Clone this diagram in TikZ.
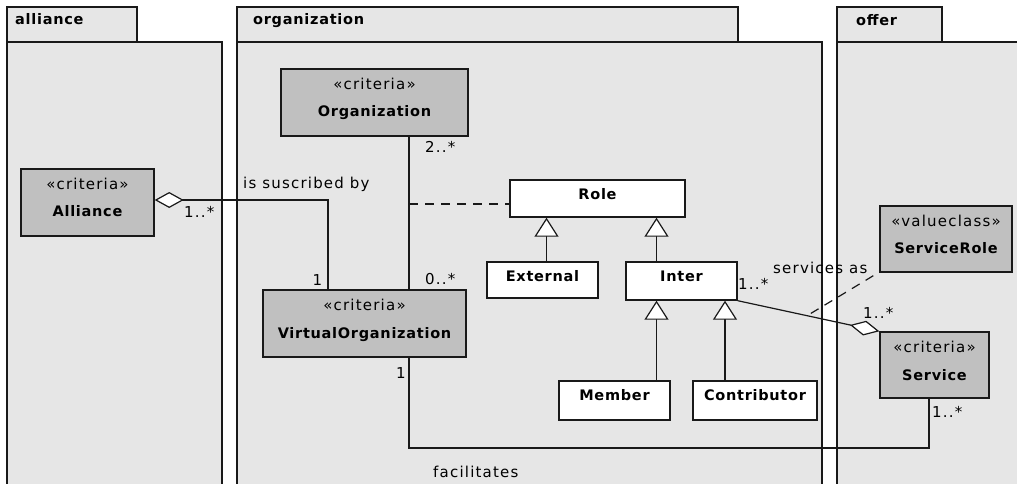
\documentclass[tikz,border=0pt]{standalone}
\usepackage{fontspec}
\setmainfont{DejaVu Sans}[LetterSpace=8, BoldFeatures={LetterSpace=5}]
\usetikzlibrary{arrows.meta,calc}
\definecolor{pkg}{RGB}{230,230,230}
\definecolor{clsgray}{RGB}{192,192,192}
\definecolor{ln}{RGB}{25,25,25}
\begin{document}
\begin{tikzpicture}[x=1pt,y=-1pt,
  pkgshape/.style={draw=ln, fill=pkg, line width=1.4pt},
  graycls/.style={draw=ln, fill=clsgray, line width=1.4pt, inner sep=0pt},
  whitecls/.style={draw=ln, fill=white, line width=1.4pt, inner sep=0pt},
  stxt/.style={font=\fontsize{15}{18}\selectfont, inner sep=0pt, anchor=base},
  ntxt/.style={font=\fontsize{14.5}{17}\selectfont\bfseries, inner sep=0pt, anchor=base},
  ptxt/.style={font=\fontsize{14.5}{17}\selectfont\bfseries, inner sep=0pt, anchor=base west},
  mult/.style={font=\fontsize{15}{18}\selectfont, inner sep=0pt, anchor=base west},
  conn/.style={draw=ln, line width=1.2pt},
  gen/.style={conn, -{Triangle[fill=white, length=19pt, width=24pt]}},
  aggstart/.style={conn, {Diamond[fill=white, length=29pt, width=16pt]}-},
  aggend/.style={conn, -{Diamond[fill=white, length=30pt, width=15pt]}},
  dashline/.style={conn, dash pattern=on 9pt off 7pt}]
\useasboundingbox (0,0) rectangle (1017,484);
\clip (0,0) rectangle (1017,484);
\fill[white] (0,0) rectangle (1017,484);

% packages
\draw[pkgshape] (7,42) rectangle (222,500);
\draw[pkgshape] (7,7) rectangle (137,42);
\draw[pkgshape] (237,42) rectangle (822,500);
\draw[pkgshape] (237,7) rectangle (738,42);
\draw[pkgshape] (837,42) rectangle (1030,500);
\draw[pkgshape] (837,7) rectangle (942,42);
\node[ptxt] (pAlliance) at (15,25) {alliance};
\node[ptxt] (pOrganization) at (253,25) {organization};
\node[ptxt] (pOffer) at (856,26) {offer};

% gray classes
\node[graycls, minimum width=133pt, minimum height=67pt] (alliance) at (87.5,202.5) {};
\node[graycls, minimum width=187pt, minimum height=67pt] (org) at (374.5,102.5) {};
\node[graycls, minimum width=203pt, minimum height=67pt] (vo) at (364.5,323.5) {};
\node[graycls, minimum width=132pt, minimum height=66pt] (srole) at (946,239) {};
\node[graycls, minimum width=109pt, minimum height=66pt] (service) at (934.5,365) {};

\node[stxt] (allianceS) at ($(alliance.north)+(0,21)$) {«criteria»};
\node[ntxt] (allianceN) at ($(alliance.north)+(0,48.5)$) {Alliance};
\node[stxt] (orgS) at ($(org.north)+(0,21)$) {«criteria»};
\node[ntxt] (orgN) at ($(org.north)+(0,48.5)$) {Organization};
\node[stxt] (voS) at ($(vo.north)+(0,21)$) {«criteria»};
\node[ntxt] (voN) at ($(vo.north)+(0,49)$) {VirtualOrganization};
\node[stxt] (sroleS) at ($(srole.north)+(0,21)$) {«valueclass»};
\node[ntxt] (sroleN) at ($(srole.north)+(0,48.5)$) {ServiceRole};
\node[stxt] (serviceS) at ($(service.north)+(0,21)$) {«criteria»};
\node[ntxt] (serviceN) at ($(service.north)+(0,49)$) {Service};

% white classes
\node[whitecls, minimum width=175pt, minimum height=37pt] (role) at (597.5,198.5) {};
\node[whitecls, minimum width=111pt, minimum height=36pt] (external) at (542.5,280) {};
\node[whitecls, minimum width=111pt, minimum height=38pt] (inter) at (681.5,281) {};
\node[whitecls, minimum width=111pt, minimum height=39pt] (member) at (614.5,400.5) {};
\node[whitecls, minimum width=124pt, minimum height=39pt] (contrib) at (755,400.5) {};

\node[ntxt] (roleN) at ($(role.north)+(0,20)$) {Role};
\node[ntxt] (externalN) at ($(external.north)+(0,20)$) {External};
\node[ntxt] (interN) at ($(inter.north)+(0,20)$) {Inter};
\node[ntxt] (memberN) at ($(member.north)+(0,20)$) {Member};
\node[ntxt] (contribN) at ($(contrib.north)+(0,20)$) {Contributor};

% alliance -- virtual organization
\draw[aggstart] ([yshift=2.5pt]alliance.east) -| ([xshift=-36.5pt]vo.north);
\node[mult] (m1) at (184,217) {1..*};
\node[mult] (lSusc) at (243,188) {is suscribed by};
\node[stxt] (m2) at (317.5,285) {1};

% organization -- virtual organization
\coordinate (orgVO) at ([xshift=34.5pt]org.south);
\draw[conn] (orgVO) -- (orgVO |- vo.north);
\node[mult] (m3) at (425,153) {2..*};
\node[mult] (m4) at (425,284) {0..*};
\draw[dashline] ([yshift=-5.5pt]role.west -| orgVO) -- ([yshift=-5.5pt]role.west);

% generalizations
\coordinate (g1) at ([xshift=4pt]external.north);
\draw[gen] (g1) -- (g1 |- role.south);
\coordinate (g2) at ([xshift=-25pt]inter.north);
\draw[gen] (g2) -- (g2 |- role.south);
\coordinate (g3) at ([xshift=42pt]member.north);
\draw[gen] (g3) -- (g3 |- inter.south);
\coordinate (g4) at ([xshift=-30pt]contrib.north);
\draw[gen] (g4) -- (g4 |- inter.south);

% inter -- service
\draw[aggend] (inter.south east) -- (service.north west);
\coordinate (assocMid) at ($(inter.south east)!0.49!(service.north west)$);
\draw[dashline] ($(srole.south west)+(-6,3)$) -- (assocMid);
\node[mult] (m5) at (738,289) {1..*};
\node[mult] (lServ) at (773,273) {services as};
\node[mult] (m6) at (863,318) {1..*};

% virtual organization -- service
\coordinate (fa) at ([xshift=44.5pt]vo.south);
\coordinate (fb) at ([xshift=-5.5pt]service.south);
\coordinate (fy) at (0,448);
\draw[conn] (fa) -- (fa |- fy) -| (fb);
\node[stxt] (m7) at (401,378) {1};
\node[mult] (m8) at (932,417) {1..*};
\node[mult] (lFac) at (433,477) {facilitates};
\end{tikzpicture}
\end{document}
